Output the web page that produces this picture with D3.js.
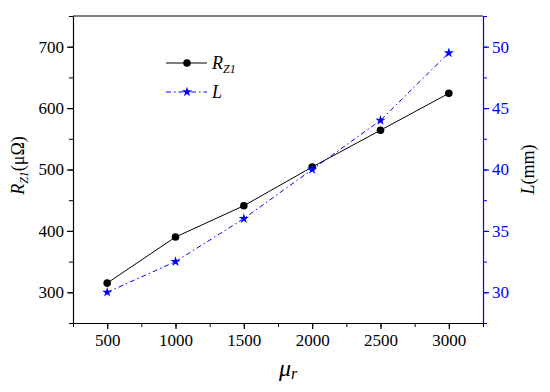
<!DOCTYPE html>
<html>
<head>
<meta charset="utf-8">
<script src="https://cdn.jsdelivr.net/npm/d3@7"></script>
<style>
  body { margin: 0; background: #fff; }
</style>
</head>
<body>
<svg id="chart" width="550" height="392"></svg>
<script>
// data
const mu = [500, 1000, 1500, 2000, 2500, 3000];
const rz1 = [315, 390, 441, 504, 564, 624];
const lmm = [30, 32.5, 36, 40, 44, 49.5];
const xTicks = [500, 1000, 1500, 2000, 2500, 3000];
const yLeftTicks = [300, 400, 500, 600, 700];
const yRightTicks = [30, 35, 40, 45, 50];

const svg = d3.select("#chart");
const margin = { top: 16, right: 67, bottom: 69, left: 73 };
const width = 550 - margin.left - margin.right;
const height = 392 - margin.top - margin.bottom;
const blue = "#0000ff";
const serif = "'Liberation Serif', 'Times New Roman', 'DejaVu Serif', serif";
const dash = "5,3,1.5,3";

const x = d3.scaleLinear().domain([250, 3250]).range([0, width]);
const yL = d3.scaleLinear().domain([250, 750]).range([height, 0]);
const yR = d3.scaleLinear().domain([27.5, 52.5]).range([height, 0]);

const g = svg.append("g").attr("transform", "translate(" + margin.left + "," + margin.top + ")");

// minor ticks first
g.append("g").attr("transform", "translate(0," + height + ")")
  .call(d3.axisBottom(x).tickValues(d3.range(250, 3251, 250)).tickSize(4).tickFormat(""))
  .call(a => a.select(".domain").remove());
g.append("g")
  .call(d3.axisLeft(yL).tickValues(d3.range(250, 751, 50)).tickSize(4).tickFormat(""))
  .call(a => a.select(".domain").remove());
g.append("g").attr("transform", "translate(" + width + ",0)")
  .call(d3.axisRight(yR).tickValues(d3.range(27.5, 52.6, 2.5)).tickSize(4).tickFormat(""))
  .call(a => a.select(".domain").remove())
  .selectAll("line").attr("stroke", blue);

// major axes
const fmt = d3.format("d");
const xAxis = g.append("g").attr("transform", "translate(0," + height + ")")
  .call(d3.axisBottom(x).tickValues(xTicks).tickFormat(fmt).tickSize(6).tickSizeOuter(0).tickPadding(5));
const yAxisL = g.append("g")
  .call(d3.axisLeft(yL).tickValues(yLeftTicks).tickFormat(fmt).tickSize(6).tickSizeOuter(0).tickPadding(3));
const yAxisR = g.append("g").attr("transform", "translate(" + width + ",0)")
  .call(d3.axisRight(yR).tickValues(yRightTicks).tickFormat(fmt).tickSize(6).tickSizeOuter(0).tickPadding(3));

[xAxis, yAxisL, yAxisR].forEach(a => {
  a.selectAll("text").style("font-size", "17px").attr("fill", "#000");
  a.selectAll("path, line").attr("stroke-width", 1.2);
});
yAxisR.selectAll("line, path").attr("stroke", blue);
yAxisR.selectAll("text").attr("fill", blue);

// top border
g.append("line").attr("x1", 0).attr("x2", width).attr("y1", 0).attr("y2", 0)
  .attr("stroke", "#000").attr("stroke-width", 1.2);

// series R_Z1
const lineR = d3.line().x((d, i) => x(mu[i])).y(d => yL(d));
g.append("path").datum(rz1).attr("d", lineR)
  .attr("fill", "none").attr("stroke", "#000").attr("stroke-width", 1);
g.selectAll(".dotR").data(rz1).enter().append("circle")
  .attr("cx", (d, i) => x(mu[i])).attr("cy", d => yL(d)).attr("r", 3.8).attr("fill", "#000");

// series L
const lineL = d3.line().x((d, i) => x(mu[i])).y(d => yR(d));
g.append("path").datum(lmm).attr("d", lineL)
  .attr("fill", "none").attr("stroke", blue).attr("stroke-width", 1)
  .attr("stroke-dasharray", dash);
const star = d3.symbol().type(d3.symbolStar).size(32);
g.selectAll(".starL").data(lmm).enter().append("path")
  .attr("d", star).attr("fill", blue)
  .attr("transform", (d, i) => "translate(" + x(mu[i]) + "," + yR(d) + ")");

// legend
const leg = svg.append("g");
leg.append("line").attr("x1", 166).attr("x2", 207).attr("y1", 63).attr("y2", 63)
  .attr("stroke", "#000").attr("stroke-width", 1);
leg.append("circle").attr("cx", 187).attr("cy", 63).attr("r", 3.8).attr("fill", "#000");
const t1 = leg.append("text").attr("x", 212).attr("y", 69).style("font-size", "18px");
t1.append("tspan").style("font-style", "italic").text("R");
t1.append("tspan").style("font-style", "italic").style("font-size", "12px").attr("dy", 4).text("Z1");

leg.append("line").attr("x1", 166).attr("x2", 207).attr("y1", 92).attr("y2", 92)
  .attr("stroke", blue).attr("stroke-width", 1).attr("stroke-dasharray", dash);
leg.append("path").attr("d", star).attr("fill", blue).attr("transform", "translate(187,92)");
leg.append("text").attr("x", 212).attr("y", 98).style("font-size", "18px")
  .style("font-style", "italic").text("L");

// axis titles
const tl = svg.append("text").attr("transform", "translate(24," + (margin.top + height / 2 - 4) + ") rotate(-90)")
  .attr("text-anchor", "middle").style("font-size", "18px");
tl.append("tspan").style("font-style", "italic").text("R");
tl.append("tspan").style("font-style", "italic").style("font-size", "12px").attr("dy", 4).text("Z1");
tl.append("tspan").attr("dy", -4).text("(μΩ)");

const tr = svg.append("text").attr("transform", "translate(534," + (margin.top + height / 2) + ") rotate(-90)")
  .attr("text-anchor", "middle").style("font-size", "18px");
tr.append("tspan").style("font-style", "italic").text("L");
tr.append("tspan").text("(mm)");

const tx = svg.append("text").attr("x", margin.left + x(2000) - 24).attr("y", 376)
  .attr("text-anchor", "middle").style("font-size", "24px").style("font-style", "italic");
tx.append("tspan").text("μ");
tx.append("tspan").style("font-size", "16px").attr("dy", 3).text("r");

svg.selectAll("text").style("font-family", serif);
</script>
</body>
</html>
